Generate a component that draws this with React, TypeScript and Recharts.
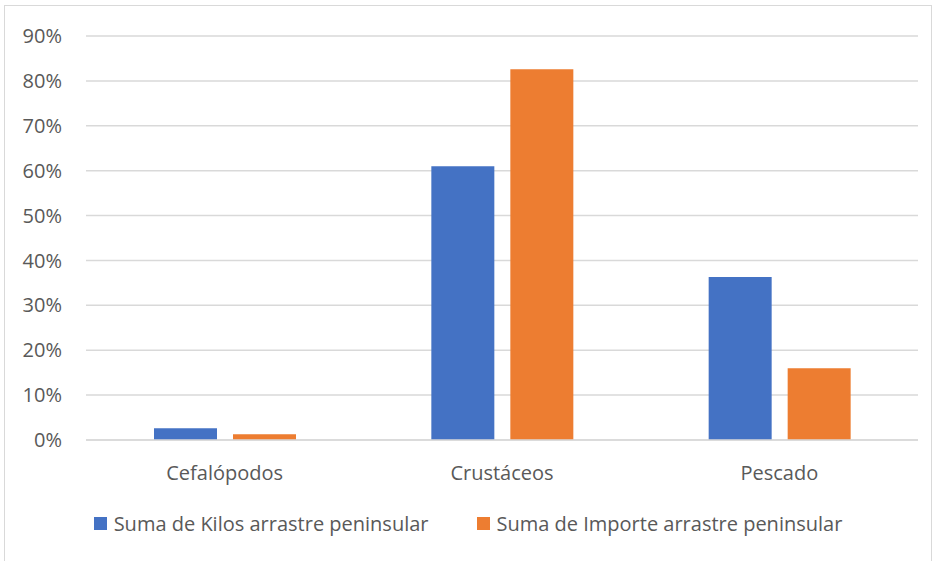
import { BarChart, Bar, XAxis, YAxis, CartesianGrid, Legend } from "recharts";

const categories = ["Cefalópodos", "Crustáceos", "Pescado"];
const kilos = [2.6, 61.0, 36.3];
const importe = [1.3, 82.6, 16.0];
const yTicks = [0, 10, 20, 30, 40, 50, 60, 70, 80, 90];
const seriesNames = ["Suma de Kilos arrastre peninsular", "Suma de Importe arrastre peninsular"];

const data = categories.map((name, i) => ({
  name,
  kilos: kilos[i],
  importe: importe[i],
}));

const FONT = "'Open Sans', 'Noto Sans', sans-serif";
const TEXT = "#595959";

const renderLegend = (props: any) => {
  const items = [...props.payload].sort(
    (a: any, b: any) => seriesNames.indexOf(a.value) - seriesNames.indexOf(b.value)
  );
  return (
    <div
      style={{
        display: "flex",
        justifyContent: "center",
        alignItems: "flex-start",
        height: 61,
        paddingTop: 10,
        boxSizing: "border-box",
        fontFamily: FONT,
        fontSize: 20,
        color: TEXT,
      }}
    >
      {items.map((entry: any, i: number) => (
        <div key={i} style={{ display: "flex", alignItems: "center", marginRight: i === 0 ? 48 : 0 }}>
          <span style={{ width: 13, height: 13, background: entry.color, display: "inline-block", marginRight: 7 }} />
          <span>{entry.value}</span>
        </div>
      ))}
    </div>
  );
};

export default function App() {
  return (
    <div style={{ position: "absolute", left: 0, top: 0, width: 936, height: 561, background: "#fff" }}>
      <div style={{ position: "absolute", left: 4, top: 5, width: 928, height: 560, border: "1px solid #d9d9d9", boxSizing: "border-box" }} />
      <BarChart
        width={936}
        height={561}
        data={data}
        margin={{ top: 36, right: 18, bottom: 0, left: 0 }}
        barGap={16}
        barSize={63}
      >
        <CartesianGrid vertical={false} stroke="#d9d9d9" strokeWidth={1.5} />
        <XAxis
          dataKey="name"
          axisLine={{ stroke: "#d9d9d9", strokeWidth: 1.5 }}
          tickLine={false}
          tick={{ fill: TEXT, fontSize: 20, fontFamily: FONT }}
          tickMargin={20}
          height={60}
        />
        <YAxis
          width={86}
          domain={[0, 90]}
          ticks={yTicks}
          interval={0}
          axisLine={false}
          tickLine={false}
          tickMargin={18}
          tickFormatter={(v: number) => `${v}%`}
          tick={{ fill: TEXT, fontSize: 20, fontFamily: FONT }}
        />
        <Legend
          verticalAlign="bottom"
          height={61}
          content={renderLegend}
          wrapperStyle={{ left: 0, width: 936, padding: 0 }}
        />
        <Bar dataKey="kilos" name={seriesNames[0]} fill="#4472c4" isAnimationActive={false} />
        <Bar dataKey="importe" name={seriesNames[1]} fill="#ed7d31" isAnimationActive={false} />
      </BarChart>
    </div>
  );
}
